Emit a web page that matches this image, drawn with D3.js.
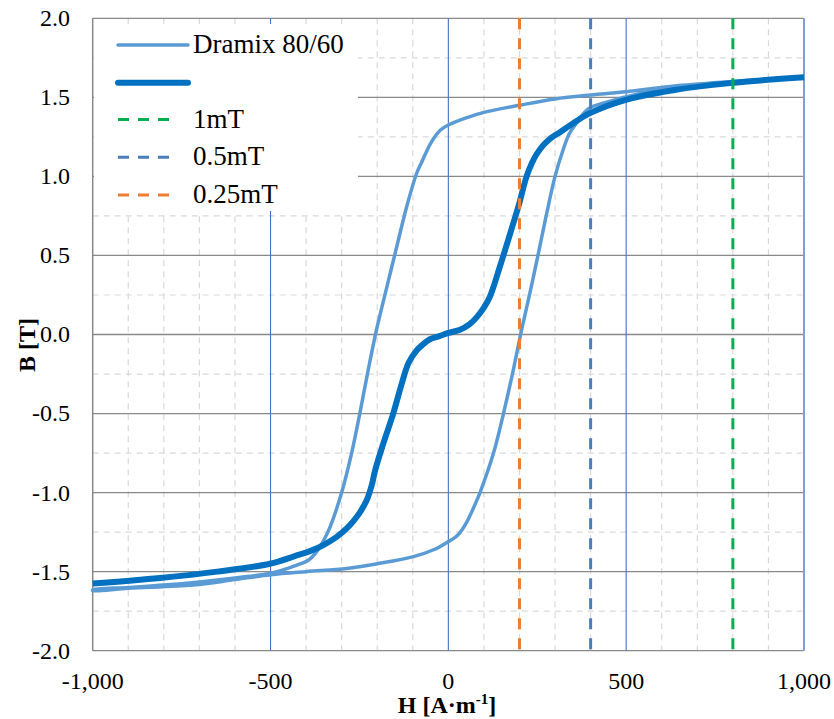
<!DOCTYPE html>
<meta charset="utf-8">
<style>
body { margin: 0; background: #fff; }
text { font-family: "Liberation Serif", "Times New Roman", serif; fill: #000; }
</style>
<body>
<script src="https://cdn.jsdelivr.net/npm/d3@7"></script>
<script>

// Dramix 80/60 hysteresis loop: upper branch (H falling) then lower branch (H rising)
var loopH = [1000, 800, 630, 500, 400, 300, 200, 100, 50, 20, 0, -15, -28, -40, -52, -64, -76, -89, -117, -150, -173, -202, -225, -249, -272, -300, -333, -350, -366, -378, -395, -440, -500, -600, -700, -800, -900, -1000,
             -1000, -900, -717, -600, -500, -400, -286, -200, -98, -40, 0, 15, 28, 40, 52, 64, 76, 89, 127, 155, 183, 206, 230, 252, 275, 300, 323, 340, 361, 375, 395, 445, 540, 630, 800, 1000];
var loopB = [1.63, 1.60, 1.57, 1.535, 1.515, 1.49, 1.45, 1.405, 1.37, 1.345, 1.325, 1.305, 1.28, 1.245, 1.20, 1.145, 1.085, 1.02, 0.81, 0.51, 0.30, 0.03, -0.22, -0.50, -0.75, -1.00, -1.22, -1.30, -1.36, -1.395, -1.43, -1.47, -1.51, -1.54, -1.565, -1.585, -1.60, -1.615,
             -1.62, -1.605, -1.585, -1.55, -1.52, -1.50, -1.48, -1.45, -1.405, -1.36, -1.31, -1.29, -1.265, -1.23, -1.185, -1.13, -1.07, -1.00, -0.75, -0.50, -0.22, 0.03, 0.27, 0.50, 0.75, 1.00, 1.17, 1.27, 1.34, 1.385, 1.43, 1.47, 1.525, 1.56, 1.595, 1.625];

// second (unlabelled) curve
var curveH = [-1000, -811, -650, -502, -430, -389, -350, -314, -285, -267, -250, -238, -228, -215, -206, -183, -155, -131, -112, -89, -70, -52, -25, 0, 33, 60, 80, 100, 117, 145, 174, 197, 220, 235, 248, 268, 290, 314, 350, 398, 492, 632, 792, 1000];
var curveB = [-1.575, -1.54, -1.50, -1.45, -1.40, -1.37, -1.33, -1.28, -1.225, -1.18, -1.13, -1.085, -1.04, -0.95, -0.86, -0.69, -0.50, -0.31, -0.18, -0.10, -0.06, -0.03, -0.01, 0.01, 0.03, 0.065, 0.11, 0.17, 0.24, 0.43, 0.64, 0.81, 1.00, 1.085, 1.14, 1.20, 1.245, 1.28, 1.335, 1.40, 1.48, 1.545, 1.59, 1.627];

// vertical reference lines
var refNames = ["1mT", "0.5mT", "0.25mT"];
var refH = [800, 400, 200];
var refColors = ["#00B050", "#4A7EBB", "#ED7D31"];

var xTicks = [-1000, -500, 0, 500, 1000];
var xTickLabels = ["-1,000", "-500", "0", "500", "1,000"];
var yTicks = [-2, -1.5, -1, -0.5, 0, 0.5, 1, 1.5, 2];
var yTickLabels = ["-2.0", "-1.5", "-1.0", "-0.5", "0.0", "0.5", "1.0", "1.5", "2.0"];

var width = 834, height = 719;
var margin = {top: 18.3, right: 30, bottom: 68.3, left: 92.7};

var x = d3.scaleLinear().domain([-1000, 1000]).range([margin.left, width - margin.right]);
var y = d3.scaleLinear().domain([-2, 2]).range([height - margin.bottom, margin.top]);

var svg = d3.select("body").append("svg")
    .attr("width", width)
    .attr("height", height);

// minor grid
svg.append("g").selectAll("line")
    .data(d3.range(-900, 1000, 100).filter(function(d) { return d % 500 !== 0; }))
  .enter().append("line")
    .attr("x1", function(d) { return x(d); }).attr("x2", function(d) { return x(d); })
    .attr("y1", y(2)).attr("y2", y(-2))
    .attr("stroke", "#d9d9d9").attr("stroke-width", 1.2).attr("stroke-dasharray", "6,5");
svg.append("g").selectAll("line")
    .data([-1.75, -1.25, -0.75, -0.25, 0.25, 0.75, 1.25, 1.75])
  .enter().append("line")
    .attr("x1", x(-1000)).attr("x2", x(1000))
    .attr("y1", function(d) { return y(d); }).attr("y2", function(d) { return y(d); })
    .attr("stroke", "#d9d9d9").attr("stroke-width", 1.2).attr("stroke-dasharray", "6,5");

// major grid
svg.append("g").selectAll("line")
    .data(yTicks)
  .enter().append("line")
    .attr("x1", x(-1000)).attr("x2", x(1000))
    .attr("y1", function(d) { return y(d); }).attr("y2", function(d) { return y(d); })
    .attr("stroke", "#898989").attr("stroke-width", 1.3);
svg.append("g").selectAll("line")
    .data(xTicks.slice(1))
  .enter().append("line")
    .attr("x1", function(d) { return x(d); }).attr("x2", function(d) { return x(d); })
    .attr("y1", y(2)).attr("y2", y(-2))
    .attr("stroke", function(d) { return d === 1000 ? "#7f9fd8" : "#4472C4"; })
    .attr("stroke-width", function(d) { return d === 1000 ? 2 : 1.1; });
svg.append("line")
    .attr("x1", x(-1000)).attr("x2", x(-1000))
    .attr("y1", y(2)).attr("y2", y(-2))
    .attr("stroke", "#898989").attr("stroke-width", 1.5);

// curves
var line = d3.line()
    .x(function(d) { return x(d[0]); })
    .y(function(d) { return y(d[1]); })
    .curve(d3.curveCatmullRom.alpha(0.5));

svg.append("path")
    .datum(d3.zip(loopH, loopB))
    .attr("d", line)
    .attr("fill", "none").attr("stroke", "#5B9BD5").attr("stroke-width", 3.5)
    .attr("stroke-linejoin", "round");

svg.append("path")
    .datum(d3.zip(curveH, curveB))
    .attr("d", line)
    .attr("fill", "none").attr("stroke", "#0070C0").attr("stroke-width", 6)
    .attr("stroke-linejoin", "round");

// reference dashed lines
svg.append("g").selectAll("line")
    .data(refH)
  .enter().append("line")
    .attr("x1", function(d) { return x(d); }).attr("x2", function(d) { return x(d); })
    .attr("y1", y(2)).attr("y2", y(-2))
    .attr("stroke", function(d, i) { return refColors[i]; })
    .attr("stroke-width", 3).attr("stroke-dasharray", "11,9");

// tick labels
svg.append("g").selectAll("text")
    .data(xTicks)
  .enter().append("text")
    .attr("x", function(d) { return x(d); })
    .attr("y", 689)
    .attr("text-anchor", "middle")
    .style("font-size", "24px")
    .text(function(d, i) { return xTickLabels[i]; });
svg.append("g").selectAll("text")
    .data(yTicks)
  .enter().append("text")
    .attr("x", 70)
    .attr("y", function(d) { return y(d); })
    .attr("dy", "0.33em")
    .attr("text-anchor", "end")
    .style("font-size", "24px")
    .text(function(d, i) { return yTickLabels[i]; });

// axis titles
var xt = svg.append("text")
    .attr("x", 447).attr("y", 713)
    .attr("text-anchor", "middle")
    .style("font-size", "24px").style("font-weight", "bold");
xt.append("tspan").text("H [A·m");
xt.append("tspan").attr("dy", -9).style("font-size", "15px").text("-1");
xt.append("tspan").attr("dy", 9).text("]");

svg.append("text")
    .attr("transform", "translate(35,345) rotate(-90)")
    .attr("text-anchor", "middle")
    .style("font-size", "24px").style("font-weight", "bold")
    .text("B [T]");

// legend
var lg = svg.append("g");
lg.append("rect")
    .attr("x", 94).attr("y", 24).attr("width", 264).attr("height", 187)
    .attr("fill", "#fff");
var legItems = [
  {label: "Dramix 80/60", color: "#5B9BD5", w: 3.5, dash: null, len: 70, y: 45},
  {label: "", color: "#0070C0", w: 6, dash: null, len: 70, y: 82.7},
  {label: refNames[0], color: refColors[0], w: 3, dash: "11,9", len: 60, y: 119.5},
  {label: refNames[1], color: refColors[1], w: 3, dash: "11,9", len: 60, y: 157.3},
  {label: refNames[2], color: refColors[2], w: 3, dash: "11,9", len: 60, y: 195}
];
legItems.forEach(function(d) {
  lg.append("line")
      .attr("x1", 118).attr("x2", 118 + d.len)
      .attr("y1", d.y).attr("y2", d.y)
      .attr("stroke", d.color).attr("stroke-width", d.w)
      .attr("stroke-linecap", d.dash ? "butt" : "round")
      .attr("stroke-dasharray", d.dash);
  lg.append("text")
      .attr("x", 193).attr("y", d.y)
      .attr("dy", "0.3em")
      .style("font-size", "27px")
      .text(d.label);
});

</script>
